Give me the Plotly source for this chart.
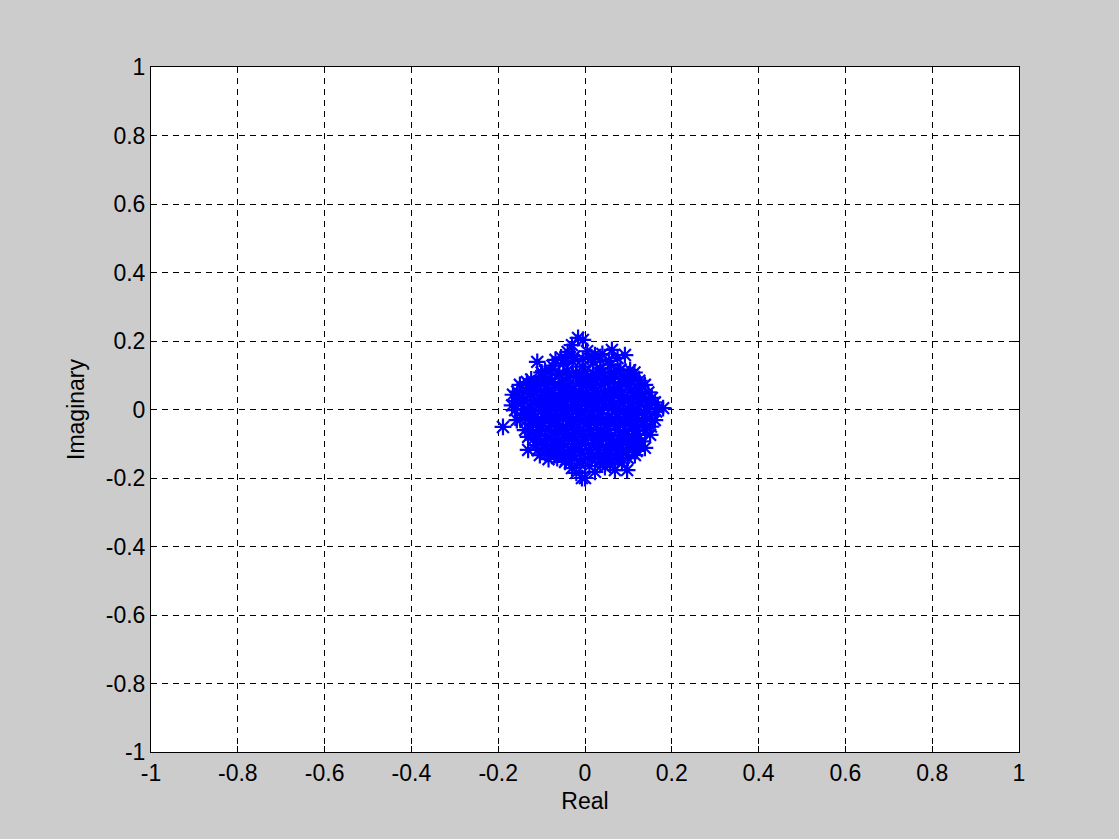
import plotly.graph_objects as go

# Received constellation samples (real / imaginary parts)
real_part = [
    -0.016, -0.005, -0.03, 0.023, 0.062, 0.092, -0.055, -0.04, 0.005, 0.04, 0.075, -0.11, -0.068,
    -0.092, -0.075, -0.05, -0.028, -0.006, 0.018, 0.036, 0.058, 0.082, 0.104,
    -0.124, -0.101, -0.083, -0.061, -0.04, -0.019, 0.002, 0.024, 0.047, 0.069, 0.091, 0.113, 0.125,
    -0.15, -0.132, -0.111, -0.09, -0.07, -0.048, -0.027, -0.006, 0.016, 0.037, 0.059, 0.081, 0.102, 0.124, 0.138,
    -0.166, -0.145, -0.124, -0.103, -0.081, -0.06, -0.039, -0.017, 0.004, 0.026, 0.047, 0.068, 0.09, 0.111, 0.132, 0.154,
    -0.168, -0.147, -0.126, -0.105, -0.084, -0.062, -0.041, -0.02, 0.001, 0.022, 0.044, 0.065, 0.086, 0.107, 0.128, 0.149, 0.168, 0.18,
    -0.157, -0.137, -0.116, -0.095, -0.073, -0.052, -0.031, -0.01, 0.012, 0.033, 0.054, 0.075, 0.097, 0.118, 0.139, 0.161,
    -0.189, -0.138, -0.12, -0.1, -0.079, -0.058, -0.036, -0.015, 0.006, 0.027, 0.049, 0.07, 0.091, 0.112, 0.134, 0.152,
    -0.131, -0.111, -0.09, -0.069, -0.047, -0.026, -0.005, 0.017, 0.038, 0.059, 0.08, 0.101, 0.122, 0.15,
    -0.131, -0.112, -0.091, -0.07, -0.049, -0.028, -0.007, 0.015, 0.036, 0.057, 0.078, 0.099, 0.12, 0.138,
    -0.104, -0.084, -0.069, -0.05, -0.03, -0.009, 0.012, 0.033, 0.054, 0.075, 0.096, 0.115,
    -0.046, -0.03, -0.012, -0.007, 0.0, 0.01, 0.023, 0.046, 0.069, 0.097, 0.085, -0.02, 0.035, 0.058,
    -0.045, -0.025, -0.005, 0.015, 0.035, 0.055,
    -0.1, -0.081, -0.059, -0.041, -0.021, 0.001, 0.019, 0.041, 0.06, 0.079, 0.101, 0.114,
    -0.134, -0.116, -0.094, -0.076, -0.054, -0.036, -0.014, 0.006, 0.024, 0.046, 0.064, 0.086, 0.104, 0.126,
    -0.156, -0.134, -0.116, -0.094, -0.076, -0.054, -0.036, -0.014, 0.004, 0.026, 0.044, 0.066, 0.084, 0.106, 0.124, 0.146,
    -0.159, -0.141, -0.119, -0.101, -0.079, -0.061, -0.039, -0.021, 0.001, 0.019, 0.041, 0.059, 0.081, 0.099, 0.121, 0.139, 0.161,
    -0.161, -0.139, -0.121, -0.099, -0.081, -0.059, -0.041, -0.019, -0.001, 0.021, 0.039, 0.061, 0.079, 0.101, 0.119, 0.141, 0.164,
    -0.149, -0.131, -0.109, -0.091, -0.069, -0.051, -0.029, -0.011, 0.011, 0.029, 0.051, 0.069, 0.091, 0.109, 0.131, 0.149,
    -0.124, -0.106, -0.084, -0.066, -0.044, -0.026, -0.004, 0.014, 0.036, 0.054, 0.076, 0.094, 0.116, 0.139,
    -0.119, -0.101, -0.079, -0.061, -0.039, -0.021, 0.001, 0.019, 0.041, 0.059, 0.081, 0.099, 0.121, 0.129,
    -0.109, -0.091, -0.071, -0.051, -0.029, -0.011, 0.009, 0.031, 0.049, 0.071, 0.089, 0.109, 0.119,
    -0.084, -0.064, -0.044, -0.024, -0.004, 0.016, 0.036, 0.056, 0.076, 0.099,
]
imag_part = [
    0.209, 0.203, 0.188, 0.159, 0.174, 0.159, 0.152, 0.168, 0.17, 0.162, 0.15, 0.139, 0.145,
    0.112, 0.128, 0.134, 0.141, 0.125, 0.138, 0.12, 0.131, 0.117, 0.115,
    0.088, 0.097, 0.09, 0.102, 0.094, 0.099, 0.087, 0.101, 0.093, 0.096, 0.089, 0.094, 0.084,
    0.072, 0.063, 0.068, 0.061, 0.071, 0.066, 0.06, 0.069, 0.064, 0.072, 0.061, 0.067, 0.07, 0.059, 0.072,
    0.043, 0.038, 0.044, 0.035, 0.041, 0.037, 0.045, 0.039, 0.036, 0.043, 0.038, 0.044, 0.036, 0.041, 0.037, 0.034,
    0.012, 0.017, 0.008, 0.014, 0.01, 0.018, 0.007, 0.013, 0.016, 0.009, 0.015, 0.011, 0.017, 0.008, 0.014, 0.012, 0.004, 0.004,
    -0.031, -0.016, -0.021, -0.012, -0.019, -0.014, -0.022, -0.011, -0.018, -0.015, -0.023, -0.013, -0.02, -0.016, -0.012, -0.031,
    -0.051, -0.06, -0.042, -0.048, -0.04, -0.047, -0.043, -0.05, -0.041, -0.046, -0.044, -0.049, -0.04, -0.047, -0.043, -0.05,
    -0.08, -0.072, -0.078, -0.07, -0.076, -0.081, -0.073, -0.079, -0.071, -0.077, -0.074, -0.08, -0.072, -0.074,
    -0.118, -0.104, -0.099, -0.106, -0.101, -0.108, -0.1, -0.105, -0.102, -0.107, -0.099, -0.104, -0.101, -0.112,
    -0.133, -0.126, -0.133, -0.128, -0.135, -0.126, -0.131, -0.127, -0.134, -0.129, -0.125, -0.133,
    -0.153, -0.171, -0.158, -0.2, -0.2, -0.165, -0.182, -0.168, -0.177, -0.177, -0.155, -0.185, -0.155, -0.16,
    0.15, 0.155, 0.148, 0.152, 0.146, 0.142,
    0.108, 0.112, 0.105, 0.113, 0.107, 0.111, 0.104, 0.109, 0.106, 0.112, 0.103, 0.108,
    0.08, 0.077, 0.083, 0.078, 0.081, 0.076, 0.082, 0.079, 0.084, 0.077, 0.081, 0.078, 0.083, 0.076,
    0.052, 0.055, 0.05, 0.054, 0.049, 0.056, 0.051, 0.053, 0.048, 0.055, 0.05, 0.054, 0.049, 0.056, 0.051, 0.05,
    0.025, 0.028, 0.023, 0.027, 0.022, 0.026, 0.029, 0.024, 0.027, 0.022, 0.028, 0.023, 0.026, 0.029, 0.024, 0.027, 0.021,
    -0.002, 0.001, -0.004, 0.0, -0.005, 0.002, -0.003, 0.001, -0.004, 0.0, -0.002, 0.003, -0.005, 0.001, -0.003, 0.0, -0.006,
    -0.03, -0.027, -0.033, -0.028, -0.031, -0.026, -0.032, -0.029, -0.034, -0.027, -0.031, -0.028, -0.033, -0.026, -0.03, -0.028,
    -0.06, -0.063, -0.058, -0.062, -0.057, -0.061, -0.064, -0.059, -0.062, -0.057, -0.06, -0.063, -0.058, -0.062,
    -0.088, -0.091, -0.086, -0.09, -0.085, -0.092, -0.087, -0.089, -0.084, -0.091, -0.086, -0.09, -0.087, -0.093,
    -0.118, -0.115, -0.12, -0.116, -0.121, -0.114, -0.119, -0.117, -0.12, -0.115, -0.118, -0.116, -0.121,
    -0.145, -0.142, -0.147, -0.143, -0.148, -0.141, -0.146, -0.144, -0.147, -0.142,
]

tick_vals = [-1, -0.8, -0.6, -0.4, -0.2, 0, 0.2, 0.4, 0.6, 0.8, 1]
tick_text = ["-1", "-0.8", "-0.6", "-0.4", "-0.2", "0", "0.2", "0.4", "0.6", "0.8", "1"]

fig = go.Figure(
    go.Scatter(
        x=real_part,
        y=imag_part,
        mode="markers",
        marker=dict(symbol="asterisk-open", size=14, color="#0000ff",
                    line=dict(color="#0000ff", width=2.2)),
        showlegend=False,
        hoverinfo="skip",
    )
)

axis_common = dict(
    range=[-1, 1],
    tickmode="array",
    tickvals=tick_vals,
    ticktext=tick_text,
    showgrid=True,
    gridcolor="#000000",
    gridwidth=1,
    griddash="6px,5px",
    zeroline=False,
    showline=True,
    linecolor="#000000",
    linewidth=1,
    mirror="ticks",
    ticks="inside",
    ticklen=6,
    tickcolor="#000000",
    tickfont=dict(family="Liberation Sans, Arial, sans-serif", size=23, color="#000000"),
    title_font=dict(family="Liberation Sans, Arial, sans-serif", size=23, color="#000000"),
)

fig.update_xaxes(**axis_common, title_text="Real", title_standoff=8)
fig.update_yaxes(**axis_common, title_text="Imaginary", title_standoff=14)

fig.update_layout(
    width=1119,
    height=839,
    paper_bgcolor="#cccccc",
    plot_bgcolor="#ffffff",
    margin=dict(l=151, r=100, t=67, b=87, pad=0),
)

fig.write_html("out.html")
